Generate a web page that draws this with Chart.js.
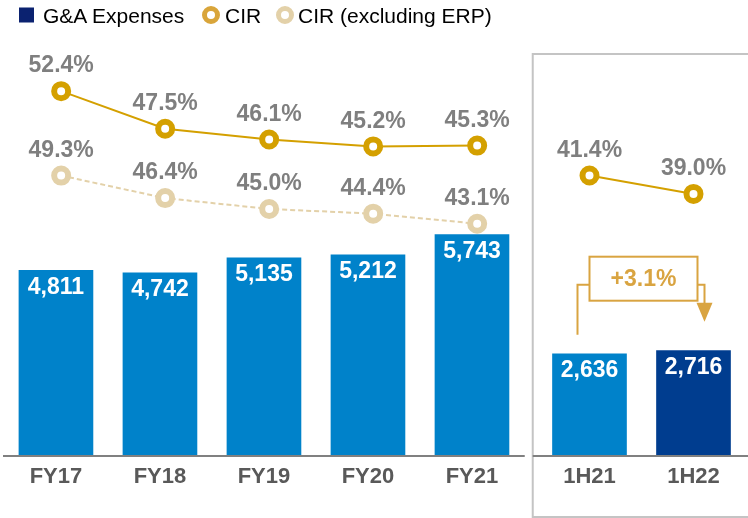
<!DOCTYPE html>
<html>
  <head>
    <meta charset="UTF-8" />
    <title>G&amp;A Expenses and CIR</title>
    <style>
      * {
        margin: 0;
        padding: 0;
        box-sizing: border-box;
      }

      body {
        width: 748px;
        height: 518px;
        background: #fff;
        position: relative;
        overflow: hidden;
        font-family: "Liberation Sans", Arial, sans-serif;
      }

      #chart {
        position: absolute;
        left: 0;
        top: 0;
      }

      #legend .txt,
      #legend .mark {
        position: absolute;
        top: 15px;
        transform: translateY(-50%);
      }

      #legend .txt {
        font-size: 21px;
        line-height: 1;
        color: #000;
        white-space: nowrap;
      }

      #legend .square {
        width: 15px;
        height: 15px;
        background: #0b2270;
      }

      #legend .ring {
        width: 18px;
        height: 18px;
        border-radius: 50%;
        border: 5.5px solid;
        background: #fff;
      }
    </style>
  </head>
  <body>
    <canvas id="chart" width="748" height="518"></canvas>
    <div id="legend">
      <div class="mark square" style="left: 19px"></div>
      <div class="txt" style="left: 43px">G&amp;A Expenses</div>
      <div class="mark ring" style="left: 202px; border-color: #d9a53a"></div>
      <div class="txt" style="left: 225px">CIR</div>
      <div class="mark ring" style="left: 276px; border-color: #e3d1a9"></div>
      <div class="txt" style="left: 298px">CIR (excluding ERP)</div>
    </div>

    <script src="https://cdn.jsdelivr.net/npm/chart.js"></script>
    <script>
      // data
      const categories = ["FY17", "FY18", "FY19", "FY20", "FY21", "1H21", "1H22"];
      const expenses = [4811, 4742, 5135, 5212, 5743, 2636, 2716];
      const cir = [52.4, 47.5, 46.1, 45.2, 45.3, 41.4, 39.0];
      const cirExErp = [49.3, 46.4, 45.0, 44.4, 43.1];
      const growthLabel = "+3.1%";

      const BLUE = "#0082ca";
      const NAVY = "#003d8f";
      const GOLD = "#d4a000";
      const BEIGE = "#e3d1a9";
      const ARROW = "#d9a441";
      const GRAY_TXT = "#7f7f7f";

      // half-year block sits a little further right than a normal slot
      const GAP = 0.13;
      const slot = (i) => i + (i >= 5 ? GAP : 0);
      // on the slide the FY markers sit slightly right of the bar centres
      const lineSlot = (i) => slot(i) + (i < 5 ? 0.05 : 0);

      const barColors = categories.map((c, i) => (i === categories.length - 1 ? NAVY : BLUE));

      const fmt = (v) => v.toLocaleString("en-US");
      const FONT = "'Liberation Sans', Arial, sans-serif";

      const slidePlugin = {
        id: "slide",
        beforeDatasetsDraw(chart) {
          const { ctx } = chart;
          const xs = chart.scales.x;
          // frame around the half-year block
          const left = (xs.getPixelForValue(4) + xs.getPixelForValue(slot(5))) / 2 + 2;
          ctx.save();
          ctx.strokeStyle = "#c4c4c4";
          ctx.lineWidth = 2;
          ctx.beginPath();
          ctx.moveTo(chart.width + 5, 54);
          ctx.lineTo(left, 54);
          ctx.lineTo(left, 517);
          ctx.lineTo(chart.width + 5, 517);
          ctx.stroke();
          ctx.restore();
        },
        afterDatasetsDraw(chart) {
          const { ctx, chartArea } = chart;
          const xs = chart.scales.x;
          const left = (xs.getPixelForValue(4) + xs.getPixelForValue(slot(5))) / 2 + 2;
          const baseY = chartArea.bottom + 1;

          ctx.save();
          // baselines
          ctx.strokeStyle = "#808080";
          ctx.lineWidth = 2;
          ctx.beginPath();
          ctx.moveTo(3, baseY);
          ctx.lineTo(left - 8, baseY);
          ctx.moveTo(left, baseY);
          ctx.lineTo(chart.width, baseY);
          ctx.stroke();

          ctx.textAlign = "center";
          ctx.textBaseline = "middle";

          // category labels
          ctx.font = "bold 22px " + FONT;
          ctx.fillStyle = "#595959";
          categories.forEach((c, i) => {
            ctx.fillText(c, xs.getPixelForValue(slot(i)), 477);
          });

          // bar values
          ctx.font = "bold 23px " + FONT;
          const bars = chart.getDatasetMeta(2).data;
          ctx.fillStyle = "#fff";
          bars.forEach((b, i) => {
            ctx.fillText(fmt(expenses[i]), b.x, b.y + 17);
          });

          // percentage labels
          ctx.fillStyle = GRAY_TXT;
          [
            [0, cir],
            [1, cirExErp],
          ].forEach(([di, vals]) => {
            chart.getDatasetMeta(di).data.forEach((p, i) => {
              ctx.fillText(vals[i].toFixed(1) + "%", p.x, p.y - 25);
            });
          });

          // growth call-out between 1H21 and 1H22
          const b5 = bars[5];
          const b6 = bars[6];
          const cy = Math.min(b5.y, b6.y) - 72;
          const bw = 108;
          const bh = 44;
          const cx = (b5.x + b6.x) / 2 + 2;
          const bl = cx - bw / 2;
          const br = cx + bw / 2;
          const ly = cy + 6;
          const lx = b5.x - 12;
          const ax = b6.x + 11;
          const tip = cy + 43;

          ctx.strokeStyle = ARROW;
          ctx.lineWidth = 2;
          ctx.strokeRect(bl, cy - bh / 2, bw, bh);
          ctx.beginPath();
          ctx.moveTo(lx, b5.y - 19);
          ctx.lineTo(lx, ly);
          ctx.lineTo(bl, ly);
          ctx.moveTo(br, ly);
          ctx.lineTo(ax, ly);
          ctx.lineTo(ax, tip - 16);
          ctx.stroke();
          ctx.fillStyle = ARROW;
          ctx.beginPath();
          ctx.moveTo(ax - 8, tip - 19);
          ctx.lineTo(ax + 8, tip - 19);
          ctx.lineTo(ax, tip);
          ctx.closePath();
          ctx.fill();
          ctx.fillText(growthLabel, cx, cy + 1);
          ctx.restore();
        },
      };

      const ctx = document.getElementById("chart").getContext("2d");
      const chart = new Chart(ctx, {
        data: {
          datasets: [
            {
              type: "line",
              label: "CIR",
              data: cir.map((v, i) => ({ x: lineSlot(i), y: v })),
              yAxisID: "yCir",
              borderColor: GOLD,
              borderWidth: 2,
              pointRadius: 7,
              pointBorderWidth: 6,
              pointBackgroundColor: "#fff",
              pointBorderColor: GOLD,
              segment: {
                borderColor: (c) => (c.p0DataIndex === 4 ? "transparent" : GOLD),
              },
              order: 0,
            },
            {
              type: "line",
              label: "CIR (excluding ERP)",
              data: cirExErp.map((v, i) => ({ x: lineSlot(i), y: v })),
              yAxisID: "yEx",
              borderColor: BEIGE,
              borderWidth: 2,
              borderDash: [5, 3],
              pointRadius: 7,
              pointBorderWidth: 6,
              pointBackgroundColor: "#fff",
              pointBorderColor: BEIGE,
              order: 0,
            },
            {
              type: "bar",
              label: "G&A Expenses",
              data: expenses.map((v, i) => ({ x: slot(i), y: v })),
              yAxisID: "yBar",
              backgroundColor: barColors,
              barThickness: 74,
              order: 1,
            },
          ],
        },
        options: {
          responsive: false,
          animation: false,
          devicePixelRatio: 1,
          layout: {
            autoPadding: false,
            padding: { top: 40, bottom: 63, left: 0, right: 0 },
          },
          plugins: {
            legend: { display: false },
            tooltip: { enabled: false },
          },
          scales: {
            x: { type: "linear", display: false, offset: false, min: -0.538, max: 6.654 },
            yBar: { display: false, min: 0, max: 10807 },
            yCir: { display: false, min: 4.96, max: 59.07 },
            yEx: { display: false, min: 13.34, max: 66.75 },
          },
        },
        plugins: [slidePlugin],
      });
    </script>
  </body>
</html>
